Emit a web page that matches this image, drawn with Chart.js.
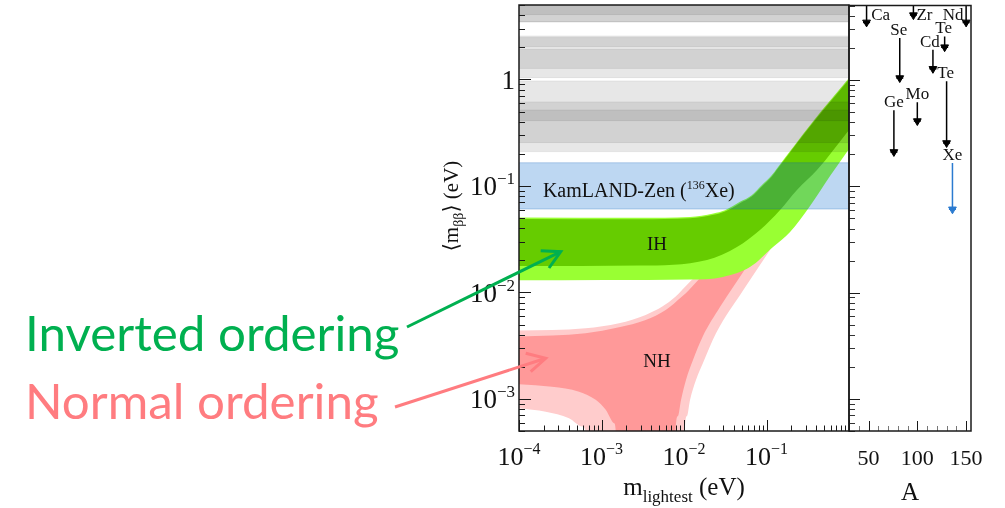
<!DOCTYPE html>
<html>
<head>
<meta charset="utf-8">
<script src="https://cdn.jsdelivr.net/npm/chart.js@4.4.1/dist/chart.umd.min.js"></script>
<style>
  html, body { margin: 0; padding: 0; background: #fff; }
  #wrap { position: relative; width: 1005px; height: 508px; overflow: hidden; }
  #main { position: absolute; left: 0; top: 0; }
  #side { position: absolute; left: 840px; top: 0; }
  #notes { position: absolute; left: 0; top: 0; }
</style>
</head>
<body>
<div id="wrap">
  <canvas id="main" width="860" height="508"></canvas>
  <canvas id="side" width="165" height="508"></canvas>
  <svg id="notes" width="1005" height="508">
    <text x="25" y="351" font-family="Lato" font-size="49.3" fill="#00b050">Inverted ordering</text>
    <text x="25" y="419" font-family="Lato" font-size="49.3" fill="#ff7c80">Normal ordering</text>
    <g fill="none" stroke-width="3" stroke-linejoin="miter">
      <line x1="407" y1="327" x2="560" y2="252" stroke="#00b050"/>
      <polyline points="540.7,250.7 560.7,251.7 549,268" stroke="#00b050"/>
      <line x1="395" y1="407" x2="545" y2="358.5" stroke="#ff7c80"/>
      <polyline points="525.7,353.3 545.7,358.3 530.7,371.7" stroke="#ff7c80"/>
    </g>
  </svg>
</div>
<script>
// axis ranges
const xMin = 1e-4, xMax = 1;      // m_lightest (eV)
const yMin = 5e-4, yMax = 5;      // <m_bb> (eV)
const aMin = 30, aMax = 155;      // mass number A

// tick labels
const xTicks = [1e-4, 1e-3, 1e-2, 1e-1];
const yTicks = [1e-3, 1e-2, 1e-1, 1];
const aTicks = [50, 100, 150];

// inverted hierarchy band edges [m_lightest, m_bb]
const ihDarkTop = [[1e-4, 0.049], [2.9e-3, 0.0487], [0.0118, 0.0497], [0.0227, 0.0535], [0.0314, 0.0574],
  [0.0477, 0.0688], [0.0662, 0.0794], [0.0875, 0.0985], [0.1156, 0.122], [0.133, 0.141], [0.366, 0.391], [1, 1.0]];
const ihDarkBottom = [[1e-4, 0.0177], [2.9e-3, 0.0179], [0.019, 0.0202], [0.0438, 0.0267], [0.0834, 0.0386],
  [0.146, 0.0595], [0.234, 0.0917], [0.409, 0.141], [1, 0.336]];
const ihLightTop = [[1e-4, 0.0505], [2.9e-3, 0.0502], [0.0118, 0.0512], [0.0227, 0.0551], [0.0314, 0.0591],
  [0.0477, 0.0709], [0.0662, 0.0818], [0.0875, 0.1015], [0.1156, 0.1257], [0.133, 0.145], [0.366, 0.403], [1, 1.03]];
const ihLightBottom = [[1e-4, 0.013], [0.0118, 0.0132], [0.0297, 0.014], [0.063, 0.0173], [0.12, 0.0267],
  [0.193, 0.037], [0.337, 0.0649], [0.589, 0.124], [1, 0.2226]];

// normal hierarchy band edges
const nhLightTop = [[1e-4, 0.00438], [6.4e-4, 0.00461], [1.63e-3, 0.00514], [3.43e-3, 0.00615], [5.46e-3, 0.00736],
  [7.93e-3, 0.00914], [9.46e-3, 0.01055], [0.0156, 0.0156], [0.0273, 0.0251], [0.063, 0.0534], [0.146, 0.119],
  [0.387, 0.336], [1, 0.947]];
const nhDarkTop = [[1e-4, 0.00385], [6.4e-4, 0.00414], [1.63e-3, 0.00471], [3.43e-3, 0.00552], [6e-3, 0.00685],
  [9.46e-3, 0.00914], [0.0115, 0.01055], [0.0183, 0.0156], [0.03, 0.0245], [0.066, 0.05], [0.15, 0.11],
  [0.4, 0.31], [1, 0.9]];
const nhDarkBottom = [[1e-4, 1.374e-3], [2.51e-4, 1.30e-3], [5.34e-4, 1.17e-3], [8.5e-4, 9.8e-4], [1.125e-3, 7.9e-4],
  [1.42e-3, 5.9e-4], [1.49e-3, 4.93e-4], [1.53e-3, 1e-5], [7.8e-3, 1e-5], [7.89e-3, 4.93e-4], [8.45e-3, 6.92e-4],
  [9.2e-3, 9.79e-4], [0.01057, 1.51e-3], [0.01285, 2.32e-3], [0.01698, 3.9e-3], [0.0273, 7.31e-3],
  [0.0575, 0.01746], [0.146, 0.055], [1, 0.374]];
const nhLightBottom = [[1e-4, 8.18e-4], [2.11e-4, 7.6e-4], [4.04e-4, 6.59e-4], [5.85e-4, 5.5e-4], [6.43e-4, 4.93e-4],
  [6.7e-4, 1e-5], [0.0101, 1e-5], [0.0102, 4.93e-4], [0.01086, 6.92e-4], [0.01183, 9.79e-4], [0.01397, 1.51e-3],
  [0.01698, 2.18e-3], [0.02442, 4.14e-3], [0.0524, 0.01055], [0.1102, 0.0251], [0.2546, 0.0663], [1, 0.26]];

// isotope limits (eV)
const isoNames = ['Ca', 'Ge', 'Se', 'Zr', 'Mo', 'Cd', 'Te', 'Te', 'Xe', 'Nd'];
const isoA     = [48, 76, 82, 96, 100, 116, 128, 130, 136, 150];
const isoHi    = [22, 0.517, 2.47, 20, 0.615, 1.92, 2.56, 0.968, 0.165, 20];
const isoLo    = [3.47, 0.21, 1.04, 4.06, 0.41, 1.27, 2.03, 0.255, 0.0607, 3.47];

// styling
const SERIF = '"Liberation Serif", "Times New Roman", "DejaVu Serif", serif';
const isoColor = name => name === 'Xe' ? '#2b7bd0' : '#000';
const isoLabelDx = [14, 0, -1, 11, 0, -3, -1, -1, 0, -13];

const pts = arr => arr.map(([x, y]) => ({ x, y }));

function band(top, bottom, fillColor, edgeColor, order) {
  const common = { showLine: true, pointRadius: 0, order, cubicInterpolationMode: 'monotone',
    borderColor: edgeColor || 'transparent', borderWidth: edgeColor ? 1 : 0 };
  return [
    Object.assign({ data: pts(top), fill: '+1', backgroundColor: fillColor }, common),
    Object.assign({ data: pts(bottom), fill: false }, common)
  ];
}

function richText(ctx, parts, x, y, align) {
  let w = 0;
  for (const p of parts) {
    ctx.font = p.size + 'px ' + SERIF;
    p.w = ctx.measureText(p.t).width;
    w += p.w;
  }
  let cx = align === 'center' ? x - w / 2 : align === 'right' ? x - w : x;
  ctx.textAlign = 'left';
  ctx.textBaseline = 'alphabetic';
  for (const p of parts) {
    ctx.font = p.size + 'px ' + SERIF;
    ctx.fillText(p.t, cx, y + (p.dy || 0));
    cx += p.w;
  }
}

function powParts(v, size) {
  const n = Math.round(Math.log10(v));
  if (n === 0) return [{ t: '1', size }];
  return [{ t: '10', size }, { t: (n < 0 ? '\u2212' : '') + Math.abs(n), size: Math.round(size * 0.62), dy: -size * 0.42 }];
}

function seg(ctx, x1, y1, x2, y2) {
  ctx.beginPath();
  ctx.moveTo(x1, y1);
  ctx.lineTo(x2, y2);
  ctx.stroke();
}

// text inside the main panel (anchored in data coordinates)
const plotNotes = [
  { x: 1.95e-4, y: 0.0794, align: 'left',
    parts: [{ t: 'KamLAND-Zen (', size: 20 }, { t: '136', size: 12, dy: -8 }, { t: 'Xe)', size: 20 }] },
  { x: 4.7e-3, y: 0.025, align: 'center', parts: [{ t: 'IH', size: 19 }] },
  { x: 4.7e-3, y: 2.0e-3, align: 'center', parts: [{ t: 'NH', size: 19 }] }
];

const mainDecor = {
  id: 'mainDecor',
  afterDatasetsDraw(chart) {
    const { ctx, chartArea: a } = chart;
    const xs = chart.scales.x, ys = chart.scales.y;
    ctx.save();
    ctx.fillStyle = '#111';
    for (const n of plotNotes) {
      richText(ctx, n.parts, xs.getPixelForValue(n.x), ys.getPixelForValue(n.y), n.align);
    }
    ctx.strokeStyle = '#1a1a1a';
    ctx.lineWidth = 1;
    for (let e = -4; e <= 0; e++) {
      for (let k = 1; k <= 9; k++) {
        const v = k * Math.pow(10, e);
        if (v >= xMin * 0.999 && v <= xMax * 1.001) {
          const px = Math.round(xs.getPixelForValue(v)) + 0.5;
          seg(ctx, px, a.bottom, px, a.bottom - (k === 1 ? 11 : 5.5));
        }
      }
    }
    for (let e = -4; e <= 0; e++) {
      for (let k = 1; k <= 9; k++) {
        const v = k * Math.pow(10, e);
        if (v >= yMin * 0.999 && v <= yMax * 1.001) {
          const py = Math.round(ys.getPixelForValue(v)) + 0.5;
          seg(ctx, a.left, py, a.left + (k === 1 ? 12 : 6), py);
        }
      }
    }
    ctx.lineWidth = 1.5;
    ctx.strokeRect(a.left, a.top, a.right - a.left, a.bottom - a.top);

    // tick labels
    for (const v of xTicks) richText(ctx, powParts(v, 26), xs.getPixelForValue(v), a.bottom + 34, 'center');
    for (const v of yTicks) richText(ctx, powParts(v, 27), a.left - 4, ys.getPixelForValue(v) + 9.5, 'right');

    // axis titles
    richText(ctx, [{ t: 'm', size: 25 }, { t: 'lightest', size: 17, dy: 7 }, { t: ' (eV)', size: 25 }],
      (a.left + a.right) / 2, a.bottom + 64, 'center');
    ctx.translate(a.left - 61, a.top + 201);
    ctx.rotate(-Math.PI / 2);
    richText(ctx, [{ t: '\u27e8m', size: 21 }, { t: '\u03b2\u03b2', size: 14, dy: 5 }, { t: '\u27e9 (eV)', size: 21 }],
      0, 0, 'center');
    ctx.restore();
  }
};

const mainSets = [];
isoNames.forEach((name, i) => {
  if (name === 'Xe') {
    mainSets.push(...band([[xMin, isoHi[i]], [xMax, isoHi[i]]], [[xMin, isoLo[i]], [xMax, isoLo[i]]],
      'rgba(0,102,204,0.26)', 'rgba(0,90,180,0.25)', 1));
  } else {
    mainSets.push(...band([[xMin, isoHi[i]], [xMax, isoHi[i]]], [[xMin, isoLo[i]], [xMax, isoLo[i]]],
      'rgba(0,0,0,0.093)', 'rgba(0,0,0,0.07)', 1));
  }
});
mainSets.push(...band(ihDarkTop, ihDarkBottom, '#66cc00', null, 2));
mainSets.push(...band(ihLightTop, ihLightBottom, '#99ff33', null, 3));
mainSets.push(...band(nhDarkTop, nhDarkBottom, '#ff9999', null, 4));
mainSets.push(...band(nhLightTop, nhLightBottom, '#ffcccc', null, 5));

new Chart(document.getElementById('main'), {
  type: 'scatter',
  data: { datasets: mainSets },
  options: {
    responsive: false,
    animation: false,
    devicePixelRatio: 1,
    layout: { padding: { left: 519, right: 11, top: 5, bottom: 77 } },
    plugins: { legend: { display: false }, tooltip: { enabled: false } },
    scales: {
      x: { type: 'logarithmic', min: xMin, max: xMax, display: false },
      y: { type: 'logarithmic', min: yMin, max: yMax, display: false }
    }
  },
  plugins: [mainDecor]
});

// right panel: limits per isotope vs A
const sideDecor = {
  id: 'sideDecor',
  afterDatasetsDraw(chart) {
    const { ctx, chartArea: a } = chart;
    const xs = chart.scales.x, ys = chart.scales.y;
    ctx.save();
    ctx.lineWidth = 1;
    for (let e = -4; e <= 0; e++) {
      for (let k = 1; k <= 9; k++) {
        const v = k * Math.pow(10, e);
        if (v >= yMin * 0.999 && v <= yMax * 1.001) {
          const py = Math.round(ys.getPixelForValue(v)) + 0.5;
          ctx.strokeStyle = k === 1 ? '#1a1a1a' : '#333';
          seg(ctx, a.left, py, a.left + (k === 1 ? 11 : 6), py);
        }
      }
    }
    for (let v = 40; v <= 150; v += 10) {
      const px = Math.round(xs.getPixelForValue(v)) + 0.5;
      const major = v % 50 === 0;
      ctx.strokeStyle = major ? '#1a1a1a' : '#777';
      seg(ctx, px, a.bottom, px, a.bottom - (major ? 10 : 5));
    }
    ctx.strokeStyle = '#1a1a1a';
    ctx.lineWidth = 1.5;
    ctx.strokeRect(a.left, a.top, a.right - a.left, a.bottom - a.top);

    ctx.fillStyle = '#111';
    for (const v of aTicks) richText(ctx, [{ t: String(v), size: 22 }], xs.getPixelForValue(v), a.bottom + 34, 'center');
    richText(ctx, [{ t: 'A', size: 25 }], (a.left + a.right) / 2, a.bottom + 69, 'center');

    isoNames.forEach((name, i) => {
      const px = xs.getPixelForValue(isoA[i]) + isoLabelDx[i];
      const py = isoHi[i] > yMax ? a.top + 14.5 : ys.getPixelForValue(isoHi[i]) - 3;
      richText(ctx, [{ t: name, size: 17 }], px, py, 'center');
    });
    ctx.restore();
  }
};

const sideSets = isoNames.map((name, i) => ({
  data: [{ x: isoA[i], y: isoHi[i] }, { x: isoA[i], y: isoLo[i] }],
  showLine: true,
  borderColor: isoColor(name),
  borderWidth: 1.5,
  pointRadius: [0, 4.5],
  pointStyle: 'triangle',
  pointRotation: 180,
  pointBackgroundColor: isoColor(name),
  pointBorderColor: isoColor(name),
  pointBorderWidth: 1
}));
sideSets.push({
  data: isoA.map((A, i) => ({ x: A, y: isoLo[i] })),
  pointStyle: 'line',
  pointRadius: 3.5,
  pointBorderWidth: 1.5,
  pointBorderColor: isoNames.map(isoColor)
});

new Chart(document.getElementById('side'), {
  type: 'scatter',
  data: { datasets: sideSets },
  options: {
    responsive: false,
    animation: false,
    devicePixelRatio: 1,
    layout: { padding: { left: 9, right: 34, top: 5, bottom: 77 } },
    plugins: { legend: { display: false }, tooltip: { enabled: false } },
    scales: {
      x: { type: 'linear', min: aMin, max: aMax, display: false },
      y: { type: 'logarithmic', min: yMin, max: yMax, display: false }
    }
  },
  plugins: [sideDecor]
});
</script>
</body>
</html>
